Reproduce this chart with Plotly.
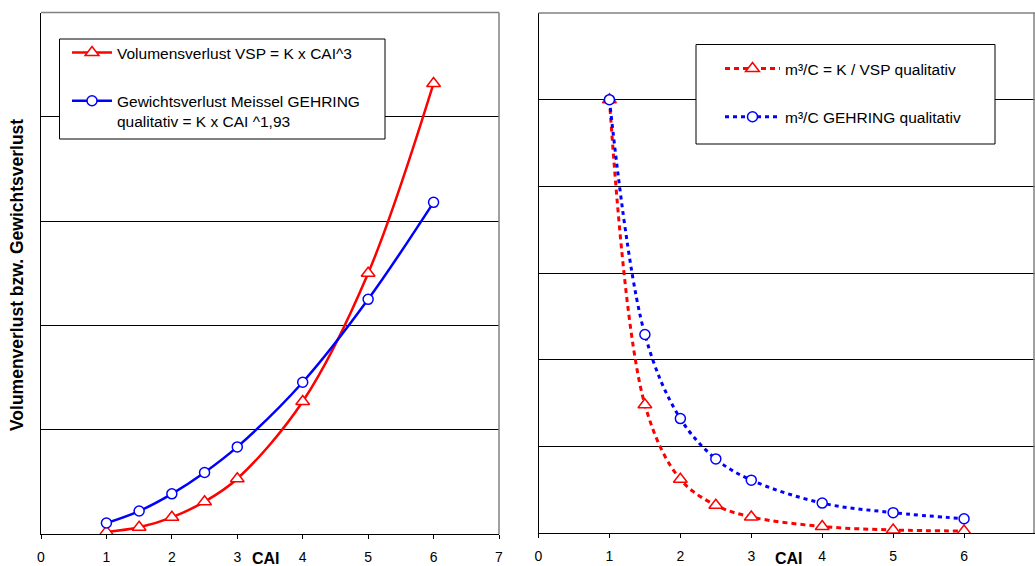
import plotly.graph_objects as go

W, H = 1035, 566

cai = [1, 1.5, 2, 2.5, 3, 4, 5, 6]
vsp = [0.02, 0.065, 0.16, 0.31, 0.53, 1.27, 2.5, 4.32]
gehring = [0.105, 0.22, 0.385, 0.59, 0.835, 1.455, 2.25, 3.18]
m3c_vsp = [5, 1.48, 0.62, 0.32, 0.185, 0.075, 0.035, 0.023]
m3c_gehring = [5, 2.29, 1.32, 0.855, 0.61, 0.345, 0.235, 0.165]

x_ticks = [0, 1, 2, 3, 4, 5, 6, 7]
names_left = ["Volumensverlust VSP = K x CAI^3",
              "Gewichtsverlust Meissel GEHRING<br>qualitativ = K x CAI ^1,93"]
names_right = ["m³/C = K / VSP qualitativ", "m³/C GEHRING qualitativ"]
y_title = "Volumenverlust bzw. Gewichtsverlust"
x_title = "CAI"

RED = "#ff0000"
BLUE = "#0000ff"
FONT = "Liberation Sans, Arial, sans-serif"

def px(v):
    return v / W

def py(v):
    return 1 - v / H

fig = go.Figure()

fig.add_trace(go.Scatter(x=cai, y=vsp, name=names_left[0], mode="lines+markers",
                         line=dict(color=RED, width=2.5, shape="spline", smoothing=1),
                         marker=dict(symbol="triangle-up", size=12, color="white",
                                     line=dict(color=RED, width=1.5)),
                         xaxis="x", yaxis="y", legend="legend", legendgroup="a"))
fig.add_trace(go.Scatter(x=cai, y=gehring, name=names_left[1], mode="lines+markers",
                         line=dict(color=BLUE, width=2.5, shape="spline", smoothing=1),
                         marker=dict(symbol="circle", size=10, color="white",
                                     line=dict(color=BLUE, width=1.5)),
                         xaxis="x", yaxis="y", legend="legend", legendgroup="b"))
fig.add_trace(go.Scatter(x=cai, y=m3c_vsp, name=names_right[0], mode="lines+markers",
                         line=dict(color=RED, width=3, dash="5px,4px", shape="spline", smoothing=1),
                         marker=dict(symbol="triangle-up", size=12, color="white",
                                     line=dict(color=RED, width=1.5)),
                         xaxis="x2", yaxis="y2", legend="legend2", legendgroup="c"))
fig.add_trace(go.Scatter(x=cai, y=m3c_gehring, name=names_right[1], mode="lines+markers",
                         line=dict(color=BLUE, width=3, dash="4px,4px", shape="spline", smoothing=1),
                         marker=dict(symbol="circle", size=10, color="white",
                                     line=dict(color=BLUE, width=1.5)),
                         xaxis="x2", yaxis="y2", legend="legend2", legendgroup="d"))

L_dom = [px(41), px(499)]
R_dom = [px(538.5), 1.0]
L_ydom = [py(534), py(12.5)]
R_ydom = [py(533), py(13)]

xcommon = dict(range=[0, 7], tickvals=x_ticks, showgrid=False, zeroline=False,
               showline=True, linecolor="black", linewidth=1.3,
               ticks="outside", ticklen=4, tickcolor="black",
               tickfont=dict(family=FONT, size=14, color="black"),
               ticklabelstandoff=6, automargin=False, fixedrange=True)
ycommon = dict(showticklabels=False, showgrid=True, gridcolor="black", gridwidth=1,
               dtick=1, zeroline=False, showline=True, linecolor="black", linewidth=1.3,
               ticks="", automargin=False, fixedrange=True)

fig.update_layout(
    width=W, height=H,
    margin=dict(l=0, r=0, t=0, b=0),
    paper_bgcolor="white", plot_bgcolor="white",
    font=dict(family=FONT, size=14, color="black"),
    xaxis=dict(domain=L_dom, anchor="y", **xcommon),
    yaxis=dict(domain=L_ydom, anchor="x", range=[0, 5], **ycommon),
    xaxis2=dict(domain=R_dom, anchor="y2", **xcommon),
    yaxis2=dict(domain=R_ydom, anchor="x2", range=[0, 6], **ycommon),
    legend=dict(x=px(67), y=py(36), xanchor="left", yanchor="top",
                bgcolor="rgba(0,0,0,0)", borderwidth=0,
                font=dict(family=FONT, size=15.5, color="black"),
                traceorder="grouped", tracegroupgap=25, valign="top", itemwidth=40,
                itemclick=False, itemdoubleclick=False),
    legend2=dict(x=px(720), y=py(52), xanchor="left", yanchor="top",
                 bgcolor="rgba(0,0,0,0)", borderwidth=0,
                 font=dict(family=FONT, size=15.5, color="black"),
                 traceorder="grouped", tracegroupgap=25, valign="middle", itemwidth=55,
                 itemclick=False, itemdoubleclick=False),
    showlegend=True,
)

shapes = []
# gray top/right borders
for (x0, x1, y0, y1) in [(L_dom[0], L_dom[1], L_ydom[1], L_ydom[1]),
                         (L_dom[1], L_dom[1], L_ydom[0], L_ydom[1]),
                         (R_dom[0], R_dom[1], R_ydom[1], R_ydom[1]),
                         (px(1034), px(1034), R_ydom[0], R_ydom[1])]:
    shapes.append(dict(type="line", xref="paper", yref="paper", x0=x0, x1=x1, y0=y0, y1=y1,
                       line=dict(color="#808080", width=1.5), layer="above"))
# legend boxes
shapes.append(dict(type="rect", xref="paper", yref="paper", x0=px(59.5), x1=px(385),
                   y0=py(139), y1=py(39), fillcolor="white",
                   line=dict(color="black", width=1), layer="above"))
shapes.append(dict(type="rect", xref="paper", yref="paper", x0=px(696), x1=px(995),
                   y0=py(144), y1=py(44.5), fillcolor="white",
                   line=dict(color="black", width=1), layer="above"))
fig.update_layout(shapes=shapes)

annotations = [
    dict(text=f"<b>{y_title}</b>", xref="paper", yref="paper", x=px(17), y=py(275),
         xanchor="center", yanchor="middle", textangle=-90, showarrow=False,
         font=dict(family=FONT, size=17.5, color="black")),
    dict(text=f"<b>{x_title}</b>", xref="paper", yref="paper", x=px(265.5), y=py(558),
         xanchor="center", yanchor="middle", showarrow=False,
         font=dict(family=FONT, size=16, color="black")),
    dict(text=f"<b>{x_title}</b>", xref="paper", yref="paper", x=px(789), y=py(558),
         xanchor="center", yanchor="middle", showarrow=False,
         font=dict(family=FONT, size=16, color="black")),
]
fig.update_layout(annotations=annotations)

fig.write_html("out.html", config={"displayModeBar": False},
               post_script="document.body.style.margin='0';document.body.style.overflow='hidden';")
